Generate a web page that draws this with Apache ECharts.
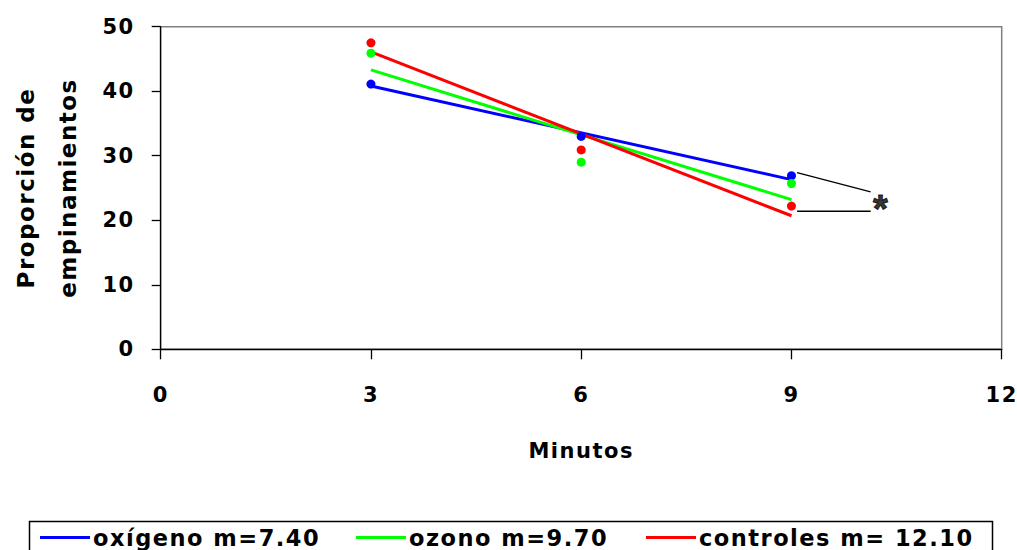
<!DOCTYPE html>
<html>
<head>
<meta charset="utf-8">
<script src="https://cdn.jsdelivr.net/npm/echarts@6/dist/echarts.min.js"></script>
<style>
  html, body { margin: 0; padding: 0; background: #fff; }
  #chart { width: 1017px; height: 550px; }
  /* the chart's lettering is set slightly spaced out */
  #chart svg text { letter-spacing: 1.5px; }
</style>
</head>
<body>
<div id="chart"></div>
<script>
// Minutes of observation
const minutos = [3, 6, 9];
// Measured proportions per group
const oxigeno = [41.1, 33.0, 26.9];
const ozono = [45.9, 29.0, 25.7];
const controles = [47.5, 30.9, 22.2];
// Fitted trend lines (start and end)
const ajusteX = [3, 9];
const oxigenoAjuste = [40.8, 26.3];
const ozonoAjuste = [43.3, 23.2];
const controlesAjuste = [46.1, 20.7];
// Series names with slopes
const nombres = ['oxígeno m=7.40', 'ozono m=9.70', 'controles m= 12.10'];
const colores = ['#0000FF', '#00FF00', '#FF0000'];
// Significance bracket between oxígeno and controles at minute 9
const llaveSuperior = [[9.08, 27.4], [10.13, 24.4]];
const llaveInferior = [[9.08, 21.4], [10.13, 21.4]];
const asterisco = [10.28, 22.6];
// Axis ticks
const ticksX = [0, 3, 6, 9, 12];
const ticksY = [0, 10, 20, 30, 40, 50];

const FONT = 'DejaVu Sans';
const pares = (xs, ys) => xs.map((x, i) => [x, ys[i]]);
const medidas = [oxigeno, ozono, controles];
const ajustes = [oxigenoAjuste, ozonoAjuste, controlesAjuste];

const series = [];
medidas.forEach((vals, i) => {
  series.push({
    type: 'scatter',
    name: nombres[i] + ' (datos)',
    data: pares(minutos, vals),
    symbol: 'circle',
    symbolSize: 9,
    itemStyle: { color: colores[i], opacity: 1 },
    z: 3
  });
});
ajustes.forEach((vals, i) => {
  series.push({
    type: 'line',
    name: nombres[i],
    data: pares(ajusteX, vals),
    symbol: 'none',
    lineStyle: { color: colores[i], width: 3 },
    itemStyle: { color: colores[i] },
    z: 2
  });
});
[llaveSuperior, llaveInferior].forEach(seg => {
  series.push({
    type: 'line',
    data: seg,
    symbol: 'none',
    silent: true,
    lineStyle: { color: '#000', width: 1.3 },
    z: 4
  });
});
series.push({
  type: 'scatter',
  data: [asterisco],
  symbolSize: 1,
  itemStyle: { color: 'rgba(0,0,0,0)' },
  label: {
    show: true,
    position: 'inside',
    formatter: '*',
    color: '#000',
    fontFamily: 'Liberation Sans',
    fontWeight: 'bold',
    fontSize: 38,
    textBorderColor: '#000',
    textBorderWidth: 1,
    offset: [0, 6]
  },
  z: 5
});

const legendPos = [35, 351, 641];
const legends = nombres.map((n, i) => ({
  data: [n],
  left: legendPos[i],
  top: 521,
  icon: 'rect',
  itemWidth: 50,
  itemHeight: 3,
  itemGap: 0,
  selectedMode: false,
  textStyle: { fontFamily: FONT, fontWeight: 'bold', fontSize: 22.5, color: '#000', padding: [0, 0, 0, -2] }
}));

const chart = echarts.init(document.getElementById('chart'), null, { renderer: 'svg' });
chart.setOption({
  backgroundColor: '#fff',
  animation: false,
  grid: {
    left: 160.7, right: 15.3, top: 26.7, bottom: 200.7,
    containLabel: false, outerBoundsMode: 'none',
    show: true, borderColor: '#808080', borderWidth: 1.5, backgroundColor: '#fff'
  },
  legend: legends,
  xAxis: {
    type: 'value',
    min: ticksX[0], max: ticksX[ticksX.length - 1], interval: 3,
    name: 'Minutos',
    nameLocation: 'middle',
    nameGap: 91,
    nameTextStyle: { fontFamily: FONT, fontWeight: 'bold', fontSize: 21, color: '#000' },
    axisLine: { show: true, onZero: false, lineStyle: { color: '#000', width: 1.3 } },
    axisTick: { show: true, inside: false, length: 10, lineStyle: { color: '#000', width: 1.3 } },
    axisLabel: { margin: 35, fontFamily: FONT, fontWeight: 'bold', fontSize: 21, color: '#000' },
    splitLine: { show: false }
  },
  yAxis: {
    type: 'value',
    min: ticksY[0], max: ticksY[ticksY.length - 1], interval: 10,
    name: 'Proporción de\nempinamientos',
    nameLocation: 'middle',
    nameGap: 72,
    nameTextStyle: { fontFamily: FONT, fontWeight: 'bold', fontSize: 23, color: '#000', lineHeight: 42 },
    axisLine: { show: true, onZero: false, lineStyle: { color: '#000', width: 1.3 } },
    axisTick: { show: true, inside: false, length: 9, lineStyle: { color: '#000', width: 1.3 } },
    axisLabel: { margin: 26, fontFamily: FONT, fontWeight: 'bold', fontSize: 21, color: '#000' },
    splitLine: { show: false }
  },
  graphic: [{
    type: 'rect',
    left: 27, top: 519,
    shape: { width: 963, height: 45 },
    style: { fill: 'none', stroke: '#000', lineWidth: 1.5 },
    z: -1
  }],
  series: series
});
</script>
</body>
</html>
